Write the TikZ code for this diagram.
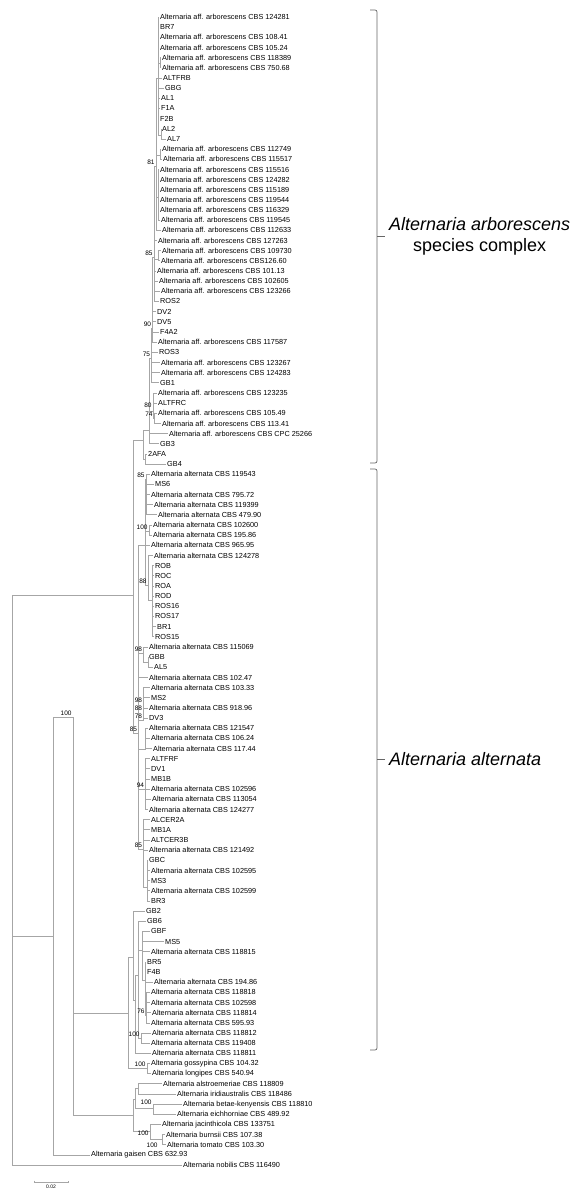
\documentclass[tikz,border=0pt]{standalone}
\usepackage{fontspec}
\setmainfont{Liberation Sans}
\tikzset{
  br/.style={draw=gray!70, line width=0.7pt},
  leaf/.style={anchor=west, inner xsep=1pt, inner ysep=0pt, font=\fontsize{7.3}{8}\selectfont},
  boot/.style={anchor=south east, inner sep=0.3pt, font=\fontsize{6.5}{7}\selectfont},
  clade/.style={draw=gray!80!black, line width=0.7pt, rounded corners=2pt},
  cladelab/.style={anchor=west, align=center, font=\fontsize{18}{20.5}\selectfont}
}
\newcommand{\arbo}{Alternaria aff. arborescens CBS}
\newcommand{\alta}{Alternaria alternata CBS}
\newcommand{\lf}[3]{\node[leaf] (l#1) at (#2,{17+(#1-1)*10.16}) {#3};}
\newcommand{\tol}[2]{\draw[br] (#1) |- (l#2.west);}
\newcommand{\ton}[2]{\draw[br] (#1) |- (#2);}
\newcommand{\bs}[2]{\node[boot] at ([xshift=-1pt,yshift=1pt]#1) {#2};}
\begin{document}
\begin{tikzpicture}[x=1pt, y=-1pt]
\useasboundingbox (0,0) rectangle (574,1190);
% leaves, arborescens complex
\lf{1}{159}{\arbo{} 124281}
\lf{2}{159}{BR7}
\lf{3}{159}{\arbo{} 108.41}
\lf{4}{159}{\arbo{} 105.24}
\lf{5}{161}{\arbo{} 118389}
\lf{6}{161}{\arbo{} 750.68}
\lf{7}{162}{ALTFRB}
\lf{8}{164}{GBG}
\lf{9}{160}{AL1}
\lf{10}{160}{F1A}
\lf{11}{159}{F2B}
\lf{12}{161}{AL2}
\lf{13}{166}{AL7}
\lf{14}{161}{\arbo{} 112749}
\lf{15}{162}{\arbo{} 115517}
\lf{16}{159}{\arbo{} 115516}
\lf{17}{159}{\arbo{} 124282}
\lf{18}{159}{\arbo{} 115189}
\lf{19}{159}{\arbo{} 119544}
\lf{20}{159}{\arbo{} 116329}
\lf{21}{160}{\arbo{} 119545}
\lf{22}{161}{\arbo{} 112633}
\lf{23}{157}{\arbo{} 127263}
\lf{24}{161}{\arbo{} 109730}
\lf{25}{160}{\arbo126.60}
\lf{26}{156}{\arbo{} 101.13}
\lf{27}{158}{\arbo{} 102605}
\lf{28}{160}{\arbo{} 123266}
\lf{29}{159}{ROS2}
\lf{30}{156}{DV2}
\lf{31}{156}{DV5}
\lf{32}{159}{F4A2}
\lf{33}{157}{\arbo{} 117587}
\lf{34}{158}{ROS3}
\lf{35}{160}{\arbo{} 123267}
\lf{36}{160}{\arbo{} 124283}
\lf{37}{159}{GB1}
\lf{38}{157}{\arbo{} 123235}
\lf{39}{157}{ALTFRC}
\lf{40}{157}{\arbo{} 105.49}
\lf{41}{161}{\arbo{} 113.41}
\lf{42}{168}{\arbo{} CPC 25266}
\lf{43}{159}{GB3}
\lf{44}{147}{2AFA}
\lf{45}{166}{GB4}
% leaves, alternata
\lf{46}{150}{\alta{} 119543}
\lf{47}{154}{MS6}
\lf{48}{150}{\alta{} 795.72}
\lf{49}{153}{\alta{} 119399}
\lf{50}{157}{\alta{} 479.90}
\lf{51}{152}{\alta{} 102600}
\lf{52}{152}{\alta{} 195.86}
\lf{53}{150}{\alta{} 965.95}
\lf{54}{153}{\alta{} 124278}
\lf{55}{154}{ROB}
\lf{56}{154}{ROC}
\lf{57}{154}{ROA}
\lf{58}{154}{ROD}
\lf{59}{154}{ROS16}
\lf{60}{154}{ROS17}
\lf{61}{156}{BR1}
\lf{62}{154}{ROS15}
\lf{63}{148}{\alta{} 115069}
\lf{64}{148}{GBB}
\lf{65}{153}{AL5}
\lf{66}{148}{\alta{} 102.47}
\lf{67}{150}{\alta{} 103.33}
\lf{68}{150}{MS2}
\lf{69}{148}{\alta{} 918.96}
\lf{70}{148}{DV3}
\lf{71}{148}{\alta{} 121547}
\lf{72}{150}{\alta{} 106.24}
\lf{73}{152}{\alta{} 117.44}
\lf{74}{150}{ALTFRF}
\lf{75}{150}{DV1}
\lf{76}{150}{MB1B}
\lf{77}{150}{\alta{} 102596}
\lf{78}{151}{\alta{} 113054}
\lf{79}{148}{\alta{} 124277}
\lf{80}{150}{ALCER2A}
\lf{81}{150}{MB1A}
\lf{82}{150}{ALTCER3B}
\lf{83}{148}{\alta{} 121492}
\lf{84}{148}{GBC}
\lf{85}{150}{\alta{} 102595}
\lf{86}{150}{MS3}
\lf{87}{150}{\alta{} 102599}
\lf{88}{150}{BR3}
\lf{89}{145}{GB2}
\lf{90}{146}{GB6}
\lf{91}{150}{GBF}
\lf{92}{164}{MS5}
\lf{93}{150}{\alta{} 118815}
\lf{94}{146}{BR5}
\lf{95}{146}{F4B}
\lf{96}{153}{\alta{} 194.86}
\lf{97}{150}{\alta{} 118818}
\lf{98}{150}{\alta{} 102598}
\lf{99}{151}{\alta{} 118814}
\lf{100}{150}{\alta{} 595.93}
\lf{101}{151}{\alta{} 118812}
\lf{102}{150}{\alta{} 119408}
\lf{103}{151}{\alta{} 118811}
% leaves, outgroups
\lf{104}{150}{Alternaria gossypina CBS 104.32}
\lf{105}{151}{Alternaria longipes CBS 540.94}
\lf{106}{162}{Alternaria alstroemeriae CBS 118809}
\lf{107}{176}{Alternaria iridiaustralis CBS 118486}
\lf{108}{182}{Alternaria betae-kenyensis CBS 118810}
\lf{109}{176}{Alternaria eichhorniae CBS 489.92}
\lf{110}{161}{Alternaria jacinthicola CBS 133751}
\lf{111}{165}{Alternaria burnsii CBS 107.38}
\lf{112}{166}{Alternaria tomato CBS 103.30}
\lf{113}{90}{Alternaria gaisen CBS 632.93}
\lf{114}{182}{Alternaria nobilis CBS 116490}

% internal nodes, arborescens complex
\coordinate (a1b) at (160,63);
\coordinate (a1c) at (161,135);
\coordinate (a1) at (158,78);
\coordinate (a2b) at (160,155);
\coordinate (a2c) at (158,197);
\coordinate (a2) at (156,166);
\coordinate (a3b) at (158,259);
\coordinate (a3) at (154,257);
\coordinate (a4) at (152.5,328);
\coordinate (a5) at (151.5,358);
\coordinate (a7) at (154,418);
\coordinate (a6) at (153,411);
\coordinate (a8) at (149,430);
\coordinate (a9b) at (145,459);
\coordinate (a9) at (143,440);
% internal nodes, alternata
\coordinate (b1) at (146,479);
\coordinate (b3) at (149,531);
\coordinate (b4b) at (152,600);
\coordinate (b4) at (148,585);
\coordinate (b5) at (145,545);
\coordinate (c1b) at (148,662);
\coordinate (c1) at (143.5,653);
\coordinate (c2) at (143.5,704);
\coordinate (c3) at (143.5,712);
\coordinate (c4) at (143.5,720);
\coordinate (c5) at (145,749);
\coordinate (d1) at (145.5,789);
\coordinate (d2b) at (147,887);
\coordinate (d2) at (143.5,849);
\coordinate (alt) at (138.5,733);
\coordinate (f5) at (146,1015);
\coordinate (f4) at (145,980);
\coordinate (f3) at (142,950);
\coordinate (f6) at (141,1038);
\coordinate (f2) at (138,975);
\coordinate (f1) at (135,1000);
\coordinate (f0) at (133,957);
% internal nodes, outgroups and root
\coordinate (gos) at (147,1068);
\coordinate (als) at (138,1088.5);
\coordinate (bet) at (153,1108.5);
\coordinate (ba) at (135,1099);
\coordinate (bur) at (162,1139.5);
\coordinate (jac) at (150,1131.5);
\coordinate (sec) at (133,1115);
\coordinate (un) at (128,1013);
\coordinate (sn) at (133,595);
\coordinate (qn) at (73,717);
\coordinate (pn) at (53,936);
\coordinate (root) at (12,880);

% branches, arborescens complex
\foreach \i in {5,6} {\tol{a1b}{\i}}
\foreach \i in {12,13} {\tol{a1c}{\i}}
\foreach \i in {1,2,3,4,7,8,9,10,11} {\tol{a1}{\i}}
\ton{a1}{a1b} \ton{a1}{a1c}
\foreach \i in {14,15} {\tol{a2b}{\i}}
\foreach \i in {16,...,21} {\tol{a2c}{\i}}
\ton{a2}{a1} \ton{a2}{a2b} \ton{a2}{a2c} \tol{a2}{22}
\foreach \i in {24,25} {\tol{a3b}{\i}}
\ton{a3}{a2} \ton{a3}{a3b}
\foreach \i in {23,26,27,28,29} {\tol{a3}{\i}}
\ton{a4}{a3}
\foreach \i in {30,...,33} {\tol{a4}{\i}}
\ton{a5}{a4}
\foreach \i in {34,...,37} {\tol{a5}{\i}}
\foreach \i in {40,41} {\tol{a7}{\i}}
\tol{a6}{38} \tol{a6}{39} \ton{a6}{a7}
\ton{a8}{a5} \ton{a8}{a6} \tol{a8}{42} \tol{a8}{43}
\tol{a9b}{44} \tol{a9b}{45}
\ton{a9}{a8} \ton{a9}{a9b}
% branches, alternata
\foreach \i in {46,...,50} {\tol{b1}{\i}}
\tol{b3}{51} \tol{b3}{52}
\foreach \i in {55,...,62} {\tol{b4b}{\i}}
\tol{b4}{54} \ton{b4}{b4b}
\ton{b5}{b1} \ton{b5}{b3} \tol{b5}{53} \ton{b5}{b4}
\tol{c1b}{64} \tol{c1b}{65}
\tol{c1}{63} \ton{c1}{c1b}
\tol{c2}{67} \tol{c2}{68}
\ton{c3}{c2} \tol{c3}{69}
\ton{c4}{c3} \tol{c4}{70}
\foreach \i in {71,72,73} {\tol{c5}{\i}}
\foreach \i in {74,...,79} {\tol{d1}{\i}}
\foreach \i in {84,...,88} {\tol{d2b}{\i}}
\foreach \i in {80,...,83} {\tol{d2}{\i}}
\ton{d2}{d2b}
\ton{alt}{b5} \ton{alt}{c1} \tol{alt}{66} \ton{alt}{c4}
\ton{alt}{c5} \ton{alt}{d1} \ton{alt}{d2}
\foreach \i in {97,...,100} {\tol{f5}{\i}}
\foreach \i in {94,95,96} {\tol{f4}{\i}}
\ton{f4}{f5}
\foreach \i in {91,92,93} {\tol{f3}{\i}}
\ton{f3}{f4}
\tol{f6}{101} \tol{f6}{102}
\tol{f2}{90} \ton{f2}{f3} \ton{f2}{f6}
\ton{f1}{f2} \tol{f1}{103}
\tol{f0}{89} \ton{f0}{f1}
% branches, outgroups and root
\tol{gos}{104} \tol{gos}{105}
\tol{als}{106} \tol{als}{107}
\tol{bet}{108} \tol{bet}{109}
\ton{ba}{als} \ton{ba}{bet}
\tol{bur}{111} \tol{bur}{112}
\tol{jac}{110} \ton{jac}{bur}
\ton{sec}{ba} \ton{sec}{jac}
\ton{un}{f0} \ton{un}{gos}
\ton{sn}{a9} \ton{sn}{alt}
\ton{qn}{un} \ton{qn}{sec}
\ton{pn}{qn} \tol{pn}{113}
\ton{root}{sn} \ton{root}{pn} \tol{root}{114}

% bootstrap values
\bs{a2}{81} \bs{a3}{85} \bs{a4}{90} \bs{a5}{75}
\node[boot] at ([xshift=-1pt,yshift=3pt]a6) {80};
\bs{a7}{74}
\bs{b1}{85} \bs{b3}{100} \bs{b4}{88}
\bs{c1}{98} \bs{c2}{98} \bs{c3}{88} \bs{c4}{78}
\bs{alt}{85} \bs{d1}{94} \bs{d2}{85}
\bs{f5}{76} \bs{f6}{100} \bs{gos}{100}
\node[boot] at ([xshift=-1pt,yshift=3pt]bet) {100};
\node[boot, anchor=north east] at ([xshift=-1pt,yshift=1pt]jac) {100};
\node[boot, anchor=north east] at ([xshift=-4pt,yshift=-3pt]bur) {100};
\bs{qn}{100}

% clade brackets
\coordinate (c1t) at (370,10);
\coordinate (c1m) at (377,236.5);
\coordinate (c1b) at (370,463);
\coordinate (c2t) at (370,469);
\coordinate (c2m) at (377,759.5);
\coordinate (c2b) at (370,1050);
\draw[clade] (c1t) -| (c1m) |- (c1b);
\draw[clade] (c1m) -- ++(8,0);
\draw[clade] (c2t) -| (c2m) |- (c2b);
\draw[clade] (c2m) -- ++(8,0);
\node[cladelab] (arblab) at ([xshift=8.5pt]c1m) {\itshape Alternaria arborescens\\species complex};
\node[cladelab] (altlab) at ([xshift=8.5pt]c2m) {\itshape Alternaria alternata};

% scale bar
\coordinate (sb1) at (34,1182);
\coordinate (sb2) at (68,1182);
\draw[br, line width=0.5pt] ([yshift=1.5pt]sb1) -- (sb1) -- (sb2) -- ([yshift=1.5pt]sb2);
\node[font=\fontsize{5}{6}\selectfont, inner sep=0pt] (sblab) at (51,1187) {0.02};
\end{tikzpicture}
\end{document}
